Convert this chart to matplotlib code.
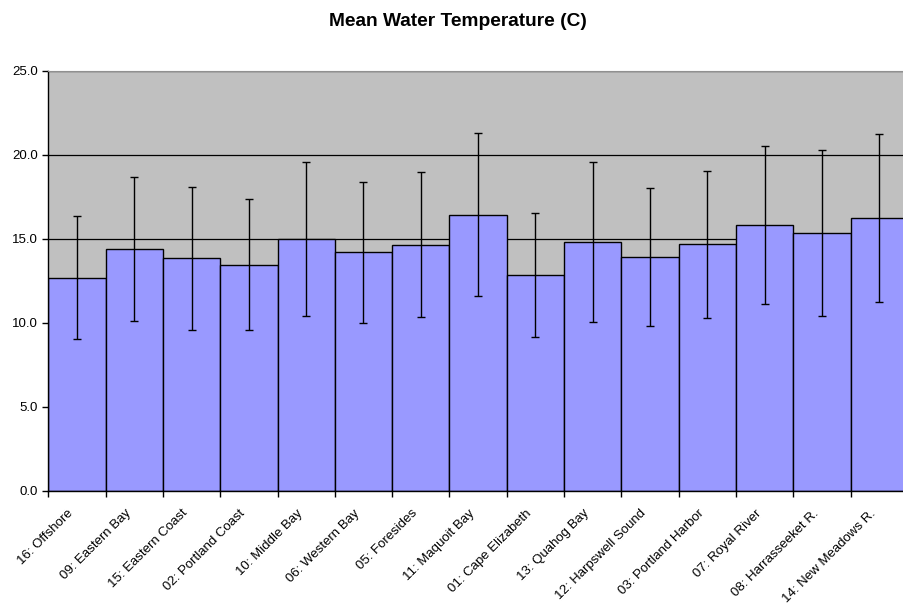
import numpy as np
import matplotlib
matplotlib.use('Agg')
import matplotlib.pyplot as plt
import matplotlib.transforms as mtransforms
from matplotlib.ticker import MultipleLocator, FixedLocator

plt.rcParams['font.family'] = ['Liberation Sans', 'DejaVu Sans']

stations = ['16: Offshore', '09: Eastern Bay', '15: Eastern Coast', '02: Portland Coast',
            '10: Middle Bay', '06: Western Bay', '05: Foresides', '11: Maquoit Bay',
            '01: Cape Elizabeth', '13: Quahog Bay', '12: Harpswell Sound', '03: Portland Harbor',
            '07: Royal River', '08: Harrasseeket R.', '14: New Meadows R.']
mean_temp = [12.67, 14.39, 13.84, 13.46, 14.99, 14.20, 14.65, 16.44,
             12.83, 14.81, 13.90, 14.67, 15.84, 15.35, 16.22]
err_high = [16.35, 18.70, 18.11, 17.37, 19.60, 18.39, 18.96, 21.32,
            16.54, 19.60, 18.01, 19.04, 20.53, 20.29, 21.24]
err_low = [9.03, 10.11, 9.57, 9.57, 10.39, 10.01, 10.35, 11.60,
           9.14, 10.03, 9.81, 10.31, 11.14, 10.39, 11.24]

mean_temp = np.array(mean_temp)
yerr = [mean_temp - np.array(err_low), np.array(err_high) - mean_temp]
x = np.arange(len(stations))

fig = plt.figure(figsize=(9.04, 6.04), dpi=100)
ax = fig.add_axes([0.0534, 0.1876, 0.951, 0.6949])
ax.set_facecolor('#C0C0C0')

ax.yaxis.grid(True, color='black', linewidth=0.9, zorder=1)
ax.set_axisbelow(True)

ax.bar(x, mean_temp, width=1.0, color='#9999FF', edgecolor='black', linewidth=1.0, zorder=2)
ax.errorbar(x, mean_temp, yerr=yerr, fmt='none', ecolor='black', elinewidth=1.0,
            capsize=3, capthick=1.0, zorder=3)

ax.set_xlim(-0.5, len(stations) - 0.5)
ax.set_ylim(0, 25)
ax.yaxis.set_major_locator(MultipleLocator(5))
ax.yaxis.set_major_formatter(matplotlib.ticker.FormatStrFormatter('%.1f'))

ax.set_xticks(x)
ax.set_xticklabels(stations, rotation=45, ha='right', rotation_mode='anchor', fontsize=9.5)
ax.xaxis.set_minor_locator(FixedLocator(np.arange(len(stations) + 1) - 0.5))
ax.tick_params(axis='x', which='major', length=0, pad=10)
ax.tick_params(axis='x', which='minor', length=4, width=1, direction='out', color='black')
ax.tick_params(axis='y', length=4, width=1, direction='out', labelsize=9.5)

# nudge rotated labels left so they end just left of the bar centre
shift = mtransforms.ScaledTranslation(-7 / 72, -2 / 72, fig.dpi_scale_trans)
for lbl in ax.get_xticklabels():
    lbl.set_transform(lbl.get_transform() + shift)

for s in ['left', 'bottom']:
    ax.spines[s].set_color('black')
    ax.spines[s].set_linewidth(1.0)
ax.spines['top'].set_color('#909090')
ax.spines['right'].set_visible(False)

fig.text(0.507, 0.964, 'Mean Water Temperature (C)', ha='center', va='center',
         fontsize=13.8, fontweight='bold')

fig.savefig('out.png', dpi=100)
